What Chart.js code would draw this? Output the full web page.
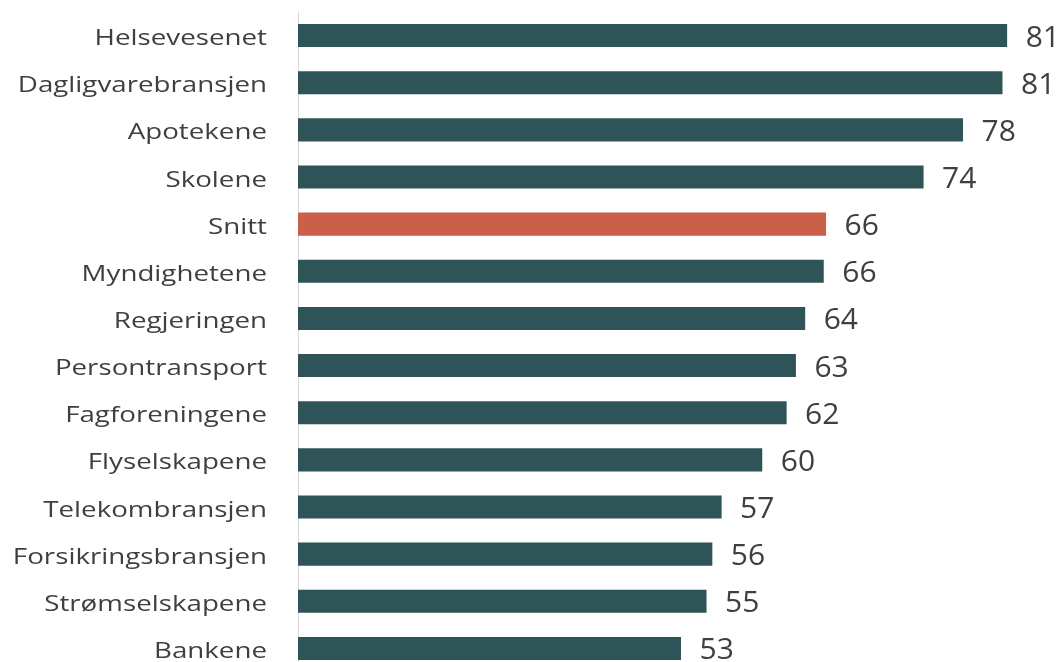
<!DOCTYPE html>
<html>
<head>
<meta charset="utf-8">
<script src="https://cdn.jsdelivr.net/npm/chart.js@4"></script>
<style>
  html, body { margin: 0; padding: 0; background: #ffffff; overflow: hidden; }
  #wrap { position: relative; width: 1064px; height: 673px; }
</style>
</head>
<body>
<div id="wrap"><canvas id="c"></canvas></div>
<script>
// ---- data ----
const categories = [
  "Helsevesenet", "Dagligvarebransjen", "Apotekene", "Skolene", "Snitt",
  "Myndighetene", "Regjeringen", "Persontransport", "Fagforeningene",
  "Flyselskapene", "Telekombransjen", "Forsikringsbransjen",
  "Strømselskapene", "Bankene"
];
const values = [81.1, 80.7, 77.3, 73.9, 65.5, 65.3, 63.7, 62.9, 62.1, 60.0, 56.5, 55.7, 55.2, 53.0];
const valueLabels = ["81", "81", "78", "74", "66", "66", "64", "63", "62", "60", "57", "56", "55", "53"];
const highlightCategory = "Snitt";

// ---- styles ----
const barColor = "#2E5457";
const highlightColor = "#CB5F48";
const textColor = "#3F3F3F";

const labelPlugin = {
  id: "customLabels",
  afterDatasetsDraw(chart) {
    const ctx = chart.ctx;
    const meta = chart.getDatasetMeta(0);
    const yScale = chart.scales.y;
    ctx.save();
    // value labels
    ctx.fillStyle = textColor;
    ctx.font = "30px 'Open Sans'";
    ctx.textAlign = "left";
    ctx.textBaseline = "alphabetic";
    meta.data.forEach((el, i) => {
      ctx.fillText(valueLabels[i], el.x + 18.5, el.y + 11);
    });
    // category labels (horizontally stretched like the reference)
    ctx.font = "21px 'Open Sans'";
    ctx.textAlign = "right";
    categories.forEach((cat, i) => {
      const y = yScale.getPixelForTick(i);
      ctx.save();
      ctx.translate(267, y + 9.5);
      ctx.scale(1.32, 1);
      ctx.fillText(cat, 0, 0);
      ctx.restore();
    });
    ctx.restore();
  }
};

new Chart(document.getElementById("c"), {
  type: "bar",
  data: {
    labels: categories,
    datasets: [{
      data: values,
      backgroundColor: categories.map(c => c === highlightCategory ? highlightColor : barColor),
      borderWidth: 0,
      barPercentage: 0.49,
      categoryPercentage: 1.0
    }]
  },
  options: {
    indexAxis: "y",
    responsive: true,
    maintainAspectRatio: false,
    animation: false,
    layout: { padding: { left: 0, right: 0, top: 12, bottom: 1 } },
    plugins: { legend: { display: false }, tooltip: { enabled: false } },
    scales: {
      x: { display: false, min: 20, max: 86 },
      y: {
        grid: { display: false, drawTicks: false },
        border: { display: true, color: "#D9D9D9", width: 1 },
        ticks: { display: false },
        afterFit(scale) { scale.width = 298; }
      }
    }
  },
  plugins: [labelPlugin]
});
</script>
</body>
</html>
